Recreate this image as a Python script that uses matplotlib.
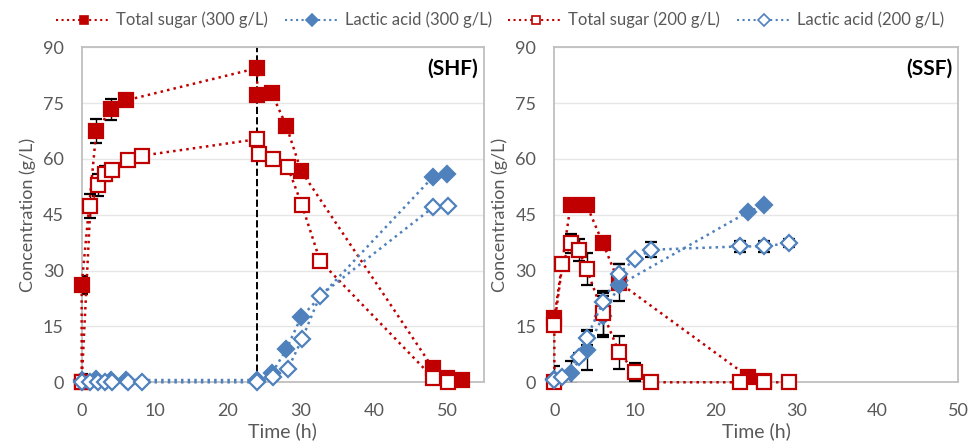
import numpy as np
import matplotlib
matplotlib.use('Agg')
import matplotlib.pyplot as plt

plt.rcParams['font.family'] = ['Lato', 'DejaVu Sans']

# ---- SHF data ----
shf_ts300_t = [0, 0, 2, 4, 6, 24, 24, 26, 28, 30, 48, 50, 52]
shf_ts300_c = [0, 26.1, 67.5, 73.3, 75.7, 84.4, 77.2, 77.6, 68.8, 56.8, 3.9, 1.1, 0.7]
shf_ts300_e = [0, 2.5, 3.2, 2.8, 0.5, 0.5, 0.5, 0.5, 0.5, 0.5, 0, 0, 0]

shf_la300_t = [0, 2, 4, 6, 24, 26, 28, 30, 48, 50]
shf_la300_c = [0.6, 0.8, 0.6, 0.6, 0.6, 2.4, 8.9, 17.5, 55.1, 55.9]
shf_la300_e = [1.5, 0, 0, 0, 0, 0, 0, 0, 0, 0]

shf_ts200_t = [0, 1.2, 2.3, 3.2, 4.2, 6.3, 8.3, 24, 24.2, 26.1, 28.2, 30.1, 32.6, 48.1, 50.1]
shf_ts200_c = [0, 47.4, 53.0, 56.0, 57.0, 59.7, 60.9, 65.3, 61.2, 60.0, 57.7, 47.7, 32.6, 1.1, 0.2]
shf_ts200_e = [0, 3.3, 3.0, 2.0, 1.0, 0.5, 0.8, 1.5, 0.8, 1.0, 0.5, 0.5, 0, 0, 0]

shf_la200_t = [0, 1.2, 2.3, 3.2, 4.2, 6.3, 8.3, 24, 26.1, 28.2, 30.1, 32.6, 48.1, 50.1]
shf_la200_c = [0.2, 0, 0, 0, 0, 0, 0, 0, 1.3, 3.6, 11.5, 23.3, 47.1, 47.3]
shf_la200_e = [0, 0, 0, 0, 0, 0, 0, 0, 0, 0.5, 0.5, 0, 0, 0]

# ---- SSF data ----
ssf_ts300_t = [0, 2, 4, 6, 8, 24, 26]
ssf_ts300_c = [17.3, 47.6, 47.6, 37.4, 26.8, 1.5, 0.3]
ssf_ts300_e = [0, 0, 0, 0, 5.0, 0, 1.0]

ssf_la300_t = [0, 2, 4, 6, 8, 24, 26]
ssf_la300_c = [0.8, 2.6, 8.7, 17.7, 26.1, 45.8, 47.5]
ssf_la300_e = [3.5, 3.0, 5.4, 5.5, 0, 0, 0]

ssf_ts200_t = [0, 0, 1, 2, 3, 4, 6, 8, 10, 12, 23, 26, 29]
ssf_ts200_c = [0, 15.5, 31.7, 37.3, 35.5, 30.4, 18.6, 8.1, 2.7, 0, 0, 0, 0]
ssf_ts200_e = [0, 0.8, 1.5, 2.5, 3.0, 4.2, 6.0, 4.4, 2.4, 0, 0, 0, 0]

ssf_la200_t = [0, 1, 3, 4, 6, 8, 10, 12, 23, 26, 29]
ssf_la200_c = [0.5, 1.5, 6.9, 11.9, 21.5, 29.2, 33.2, 35.6, 36.5, 36.5, 37.4]
ssf_la200_e = [0, 0, 1.0, 2.0, 2.5, 2.5, 0.5, 2.0, 1.5, 1.5, 1.0]

y_ticks = [0, 15, 30, 45, 60, 75, 90]
x_ticks = [0, 10, 20, 30, 40, 50]

red = '#C00000'
blue = '#4F81BD'
grey = '#595959'

fig = plt.figure(figsize=(9.71, 4.48), dpi=100)
ax1 = fig.add_axes([0.0841, 0.1467, 0.4143, 0.7478])
ax2 = fig.add_axes([0.5709, 0.1467, 0.4161, 0.7478])


def draw_series(ax, t, c, e, color, marker, filled, label):
    face = color if filled else 'white'
    lines = ax.errorbar(t, c, yerr=e, color=color, ls=':', lw=1.8,
                        marker=marker, ms=10 if marker == 's' else 8.5,
                        mfc=face, mec=color, mew=1.6,
                        ecolor='black', elinewidth=1, capsize=4, capthick=1,
                        label=label, zorder=3)
    # markers sitting on the frame stay whole, error bars get cut at the axis
    lines[0].set_clip_on(False)


def style_axes(ax, xmax, tag):
    ax.set_xlim(0, xmax)
    ax.set_ylim(0, 90)
    ax.set_xticks(x_ticks)
    ax.set_yticks(y_ticks)
    ax.yaxis.grid(True, color='#E6E6E6', lw=1)
    ax.set_axisbelow(True)
    for s in ax.spines.values():
        s.set_color('#BFBFBF')
        s.set_linewidth(1.3)
    ax.tick_params(length=0, labelsize=13, labelcolor=grey)
    ax.tick_params(axis='x', pad=15)
    ax.tick_params(axis='y', pad=13)
    ax.set_xlabel('Time (h)', fontsize=14, color=grey, labelpad=2)
    ax.set_ylabel('Concentration (g/L)', fontsize=13, color=grey, labelpad=5)
    ax.text(0.985, 0.935, tag, transform=ax.transAxes, ha='right', va='center',
            fontsize=15, fontweight='bold', color='black')


# SHF
draw_series(ax1, shf_ts300_t, shf_ts300_c, shf_ts300_e, red, 's', True, 'Total sugar (300 g/L)')
draw_series(ax1, shf_la300_t, shf_la300_c, shf_la300_e, blue, 'D', True, 'Lactic acid (300 g/L)')
draw_series(ax1, shf_ts200_t, shf_ts200_c, shf_ts200_e, red, 's', False, 'Total sugar (200 g/L)')
draw_series(ax1, shf_la200_t, shf_la200_c, shf_la200_e, blue, 'D', False, 'Lactic acid (200 g/L)')
ax1.axvline(24, color='black', ls='--', lw=1.4, zorder=2)
style_axes(ax1, 55, '(SHF)')

# SSF
draw_series(ax2, ssf_ts300_t, ssf_ts300_c, ssf_ts300_e, red, 's', True, 'Total sugar (300 g/L)')
draw_series(ax2, ssf_la300_t, ssf_la300_c, ssf_la300_e, blue, 'D', True, 'Lactic acid (300 g/L)')
draw_series(ax2, ssf_ts200_t, ssf_ts200_c, ssf_ts200_e, red, 's', False, 'Total sugar (200 g/L)')
draw_series(ax2, ssf_la200_t, ssf_la200_c, ssf_la200_e, blue, 'D', False, 'Lactic acid (200 g/L)')
style_axes(ax2, 50, '(SSF)')

# legend across the top
handles = []
labels = []
for col, mk, fill, lab in [
        (red, 's', True, 'Total sugar (300 g/L)'),
        (blue, 'D', True, 'Lactic acid (300 g/L)'),
        (red, 's', False, 'Total sugar (200 g/L)'),
        (blue, 'D', False, 'Lactic acid (200 g/L)')]:
    h, = ax1.plot([], [], color=col, ls=':', lw=1.5, marker=mk, ms=6,
                  mfc=col if fill else 'white', mec=col, mew=1.2)
    handles.append(h)
    labels.append(lab)

# shrink the legend font until it fits the width the reference uses
target_w = 963 - 56
fs = 12.5
renderer = fig.canvas.get_renderer()
while True:
    leg = fig.legend(handles, labels, loc='center left',
                     bbox_to_anchor=(56 / 971, 0.955), ncol=4,
                     frameon=False, fontsize=fs, labelcolor=grey, handlelength=3.3,
                     handletextpad=0.3, columnspacing=1.0, numpoints=1,
                     borderaxespad=0, borderpad=0)
    w = leg.get_window_extent(renderer).width
    if w <= target_w or fs < 8:
        break
    leg.remove()
    fs -= 0.25

fig.savefig('out.png', dpi=100)
